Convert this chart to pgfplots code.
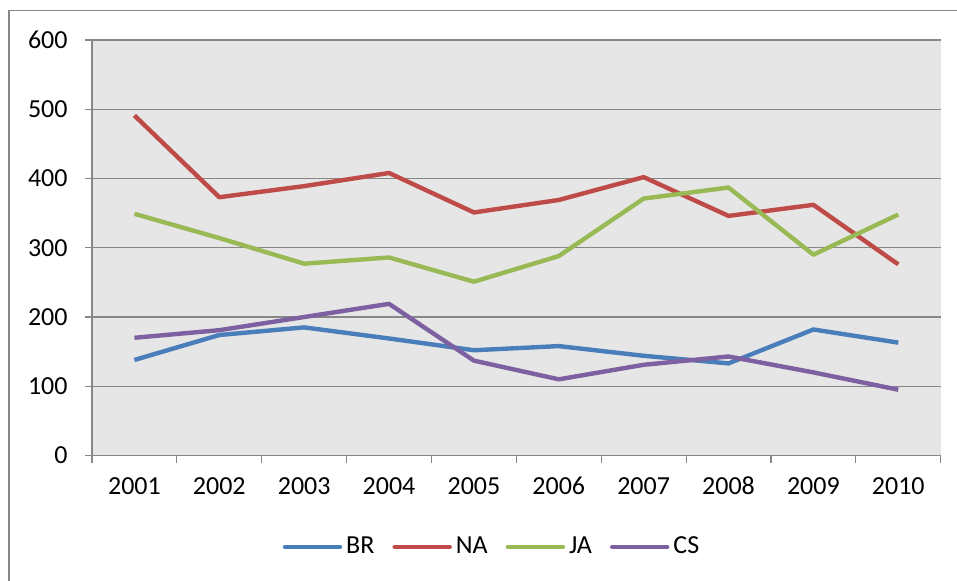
\documentclass[border=0pt]{standalone}
\usepackage{pgfplots}
\pgfplotsset{compat=1.18}
\usepackage{fontspec}
\setmainfont{Carlito}
\definecolor{cBR}{HTML}{4A7EBB}
\definecolor{cNA}{HTML}{BE4B48}
\definecolor{cJA}{HTML}{98B954}
\definecolor{cCS}{HTML}{7D60A0}
\definecolor{gridc}{HTML}{878787}
\definecolor{plotbg}{HTML}{E6E6E6}
\begin{document}
\begin{tikzpicture}
\useasboundingbox (0,0) rectangle (478.5pt,290pt);
\fill[white] (0,0) rectangle (478.5pt,290pt);
\draw[color=gridc, line width=0.6pt] (4.5pt,-2pt) -- (4.5pt,284.65pt) -- (481pt,284.65pt);
\begin{axis}[
  at={(46pt,62.25pt)}, anchor=south west,
  scale only axis, width=424.35pt, height=207.75pt,
  xmin=0.5, xmax=10.5, ymin=0, ymax=600,
  axis background/.style={fill=plotbg},
  axis x line*=bottom, axis y line*=left,
  axis line style={draw=gridc, line width=0.6pt, -},
  xtick={1,2,3,4,5,6,7,8,9,10},
  xticklabels={2001,2002,2003,2004,2005,2006,2007,2008,2009,2010},
  ytick={0,100,200,300,400,500,600},
  minor xtick={0.5,1.5,2.5,3.5,4.5,5.5,6.5,7.5,8.5,9.5,10.5},
  minor ytick={0,100,200,300,400,500,600},
  tick align=outside,
  major tick length=0pt, minor tick length=3.5pt,
  every tick/.style={draw=gridc, line width=0.6pt},
  ymajorgrids, major grid style={draw=gridc, line width=0.6pt},
  minor grid style={draw=none},
  tick label style={font=\fontsize{13}{15.6}\selectfont},
  /pgf/number format/assume math mode=true,
  yticklabel style={xshift=-8.7pt},
  xticklabel style={yshift=-7.9pt, text height=8.3pt, text depth=0pt},
  legend columns=4,
  legend style={at={(0.4725,-0.2202)}, anchor=center, draw=none, fill=none,
    font=\fontsize{13}{15.6}\selectfont,
    /tikz/every even column/.append style={column sep=7pt}},
  legend image code/.code={\draw[#1, line cap=round] (0pt,0pt) -- (27.5pt,0pt);},
  every axis plot/.append style={line width=2.2pt, line join=round},
  clip=false,
]
\addplot[cBR] coordinates {(1,138) (2,174) (3,185) (4,169) (5,152) (6,158) (7,144) (8,133) (9,182) (10,163)};
\addlegendentry{BR}
\addplot[cNA] coordinates {(1,491) (2,373) (3,389) (4,408) (5,351) (6,369) (7,402) (8,346) (9,362) (10,276)};
\addlegendentry{NA}
\addplot[cJA] coordinates {(1,349) (2,314) (3,277) (4,286) (5,251) (6,288) (7,371) (8,387) (9,290) (10,348)};
\addlegendentry{JA}
\addplot[cCS] coordinates {(1,170) (2,181) (3,200) (4,219) (5,137) (6,110) (7,131) (8,143) (9,120) (10,95)};
\addlegendentry{CS}
\end{axis}
\end{tikzpicture}
\end{document}
